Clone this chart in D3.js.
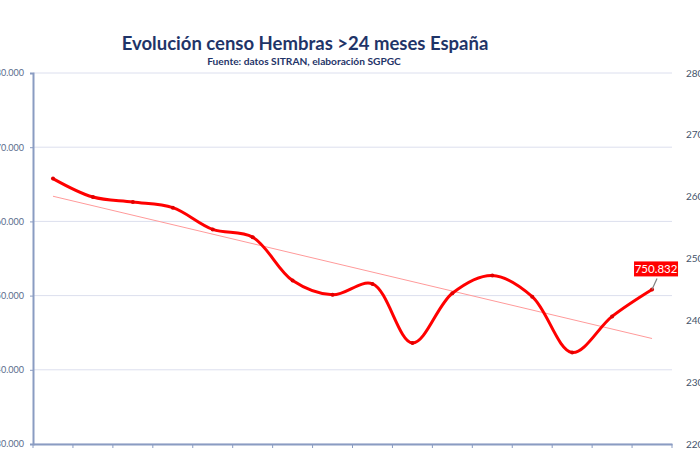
<!DOCTYPE html>
<html><head><meta charset="utf-8">
<script src="https://cdn.jsdelivr.net/npm/d3@7"></script>
<style>body{margin:0;background:#fff}svg{display:block}</style>
</head><body>
<script>
const categories = ["1","2","3","4","5","6","7","8","9","10","11","12","13","14","15","16"];
const censo = [765770,763280,762610,761850,758920,757880,752030,750100,751580,743610,750310,752700,749860,742340,747200,750832];
const leftTicks = [730000,740000,750000,760000,770000,780000];
const rightTicks = [220000,230000,240000,250000,260000,270000,280000];
const title = "Evolución censo Hembras >24 meses España";
const subtitle = "Fuente: datos SITRAN, elaboración SGPGC";

const W=700,H=450;
const svg=d3.select("body").append("svg").attr("width",W).attr("height",H);
const x0=33,x1=672,yT=73,yB=444;
const x=d3.scaleBand().domain(categories).range([x0,x1]);
const y=d3.scaleLinear().domain([730000,780000]).range([yB,yT]);
const y2=d3.scaleLinear().domain([220000,280000]).range([yB,yT]);
const fmt=v=>d3.format(",")(v).replace(/,/g,".");
const font="Lato, 'Open Sans', sans-serif";

// gridlines
svg.append("g").selectAll("line").data(leftTicks).join("line")
 .attr("x1",x0).attr("x2",x1).attr("y1",d=>y(d)).attr("y2",d=>y(d))
 .attr("stroke","#dcdfee").attr("stroke-width",1);

// left axis
const la=svg.append("g").attr("transform",`translate(${x0},0)`)
 .call(d3.axisLeft(y).tickValues(leftTicks).tickFormat(fmt).tickSize(3).tickPadding(6));
la.select(".domain").attr("stroke","#8a9cc2").attr("stroke-width",2);
la.selectAll(".tick line").attr("stroke","#8a9cc2");
la.selectAll("text").attr("fill","#5a6b8c").style("font-family",font).style("font-size","9px");

// right axis labels
svg.append("g").selectAll("text").data(rightTicks).join("text")
 .attr("x",686).attr("y",d=>y2(d)).attr("dy","0.35em")
 .attr("fill","#44546a").style("font-family",font).style("font-size","10px")
 .text(d=>fmt(d));

// bottom axis
const ba=svg.append("g").attr("transform",`translate(0,${yB})`)
 .call(d3.axisBottom(x).tickValues([]).tickSizeOuter(0));
ba.select(".domain").attr("stroke","#8a9cc2").attr("stroke-width",2);
const bounds=categories.map(c=>x(c)).concat([x1]);
svg.append("g").selectAll("line").data(bounds).join("line")
 .attr("x1",d=>d).attr("x2",d=>d).attr("y1",yB).attr("y2",yB+4)
 .attr("stroke","#8a9cc2").attr("stroke-width",1);

// trendline (linear regression)
const n=censo.length, xs=d3.range(n);
const mx=d3.mean(xs), my=d3.mean(censo);
const b=d3.sum(xs,(i)=>(i-mx)*(censo[i]-my))/d3.sum(xs,i=>(i-mx)*(i-mx));
const a=my-b*mx;
const cx=i=>x(categories[i])+x.bandwidth()/2;
svg.append("line").attr("x1",cx(0)).attr("y1",y(a)).attr("x2",cx(n-1)).attr("y2",y(a+b*(n-1)))
 .attr("stroke","#ff9a9a").attr("stroke-width",1);

// main line
const line=d3.line().x((d,i)=>cx(i)).y(d=>y(d)).curve(d3.curveCatmullRom.alpha(0.5));
svg.append("path").datum(censo).attr("d",line).attr("fill","none")
 .attr("stroke","#ff0000").attr("stroke-width",3).attr("stroke-linejoin","round");
svg.append("g").selectAll("circle").data(censo).join("circle")
 .attr("cx",(d,i)=>cx(i)).attr("cy",d=>y(d)).attr("r",2).attr("fill","#e00000");

// data label
const last=censo[n-1], lx=cx(n-1), ly=y(last);
svg.append("line").attr("x1",lx).attr("y1",ly).attr("x2",lx+5).attr("y2",ly-11)
 .attr("stroke","#7f7f7f").attr("stroke-width",1.2);
svg.append("rect").attr("x",lx-18).attr("y",ly-28).attr("width",44).attr("height",15).attr("fill","#ff0000");
svg.append("text").attr("x",lx+4).attr("y",ly-16.5).attr("text-anchor","middle")
 .attr("fill","#fff").style("font-family",font).style("font-size","11.5px").text(fmt(last));

// titles
svg.append("text").attr("x",305).attr("y",50).attr("text-anchor","middle")
 .attr("fill","#1f3468").style("font-family",font).style("font-weight","bold").style("font-size","18.5px").text(title);
svg.append("text").attr("x",304).attr("y",65).attr("text-anchor","middle")
 .attr("fill","#1f3468").style("font-family",font).style("font-weight","bold").style("font-size","10.2px").text(subtitle);
</script>
</body></html>
